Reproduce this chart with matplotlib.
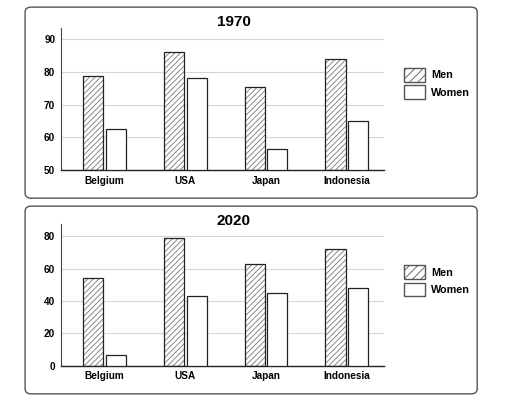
import matplotlib
matplotlib.use("Agg")
import matplotlib.pyplot as plt
from matplotlib.patches import FancyBboxPatch, Patch
import numpy as np

plt.rcParams.update({
    "font.family": ["Liberation Sans", "DejaVu Sans"],
    "font.weight": "bold",
    "hatch.linewidth": 0.6,
})

countries = ["Belgium", "USA", "Japan", "Indonesia"]
men_1970 = [78.8, 86.0, 75.4, 84.1]
women_1970 = [62.7, 78.2, 56.3, 65.0]
men_2020 = [54.1, 78.6, 62.6, 71.8]
women_2020 = [6.6, 43.2, 45.1, 47.8]

fig = plt.figure(figsize=(5.12, 4.19), dpi=100)
fig.patch.set_facecolor("white")

# rounded panel boxes
for y0, h in [(0.527, 0.456), (0.06, 0.448)]:
    box = FancyBboxPatch((0.049, y0), 0.883, h, boxstyle="round,pad=0,rounding_size=0.012",
                         transform=fig.transFigure, facecolor="white", edgecolor="#555555",
                         linewidth=1.0, zorder=-1)
    fig.patches.append(box)


def draw_panel(rect, men, women, title, ylim, yticks, title_y, leg_y):
    ax = fig.add_axes(rect)
    ax.set_facecolor("none")
    x = np.arange(len(countries))
    w = 0.25
    gap = 0.015
    xm = x - w / 2 - gap
    xw = x + w / 2 + gap
    base = ylim[0]
    mh = np.array(men) - base
    wh = np.array(women) - base
    # hatch in gray, outline in black
    ax.bar(xm, mh, w, bottom=base, color="white", edgecolor="#777777", hatch="//////",
           linewidth=0, zorder=2)
    ax.bar(xm, mh, w, bottom=base, fill=False, edgecolor="#222222", linewidth=0.9, zorder=3)
    ax.bar(xw, wh, w, bottom=base, color="white", edgecolor="#222222", linewidth=0.9, zorder=3)
    ax.set_xlim(-0.54, 3.46)
    ax.set_ylim(*ylim)
    ax.set_yticks(yticks)
    ax.set_xticks(x)
    ax.set_xticklabels(countries)
    ax.tick_params(axis="both", length=0, labelsize=7.2, pad=4)
    for t in ax.get_xticklabels() + ax.get_yticklabels():
        t.set_fontweight("bold")
    ax.grid(axis="y", color="#d6d6d6", linewidth=0.8, zorder=0)
    ax.set_axisbelow(True)
    for s in ["top", "right"]:
        ax.spines[s].set_visible(False)
    ax.spines["left"].set_color("#444444")
    ax.spines["bottom"].set_color("#222222")
    ax.spines["bottom"].set_linewidth(1.0)
    fig.text(0.457, title_y, title, ha="center", va="center", fontsize=11, fontweight="bold")
    handles = [Patch(facecolor="white", edgecolor="#555555", hatch="////", label="Men"),
               Patch(facecolor="white", edgecolor="#555555", label="Women")]
    leg = ax.legend(handles=handles, loc="upper left", bbox_to_anchor=(1.062, leg_y),
                    frameon=False, fontsize=7.8, handlelength=1.95, handleheight=1.55,
                    labelspacing=0.35, handletextpad=0.55, borderpad=0, borderaxespad=0)
    for t in leg.get_texts():
        t.set_fontweight("bold")
    return ax


draw_panel([0.119, 0.594, 0.631, 0.339], men_1970, women_1970, "1970", (50, 93.4),
           [50, 60, 70, 80, 90], 0.947, 0.718)
draw_panel([0.119, 0.127, 0.631, 0.338], men_2020, women_2020, "2020", (0, 87.4),
           [0, 20, 40, 60, 80], 0.472, 0.71)

fig.savefig("out.png", dpi=100)
